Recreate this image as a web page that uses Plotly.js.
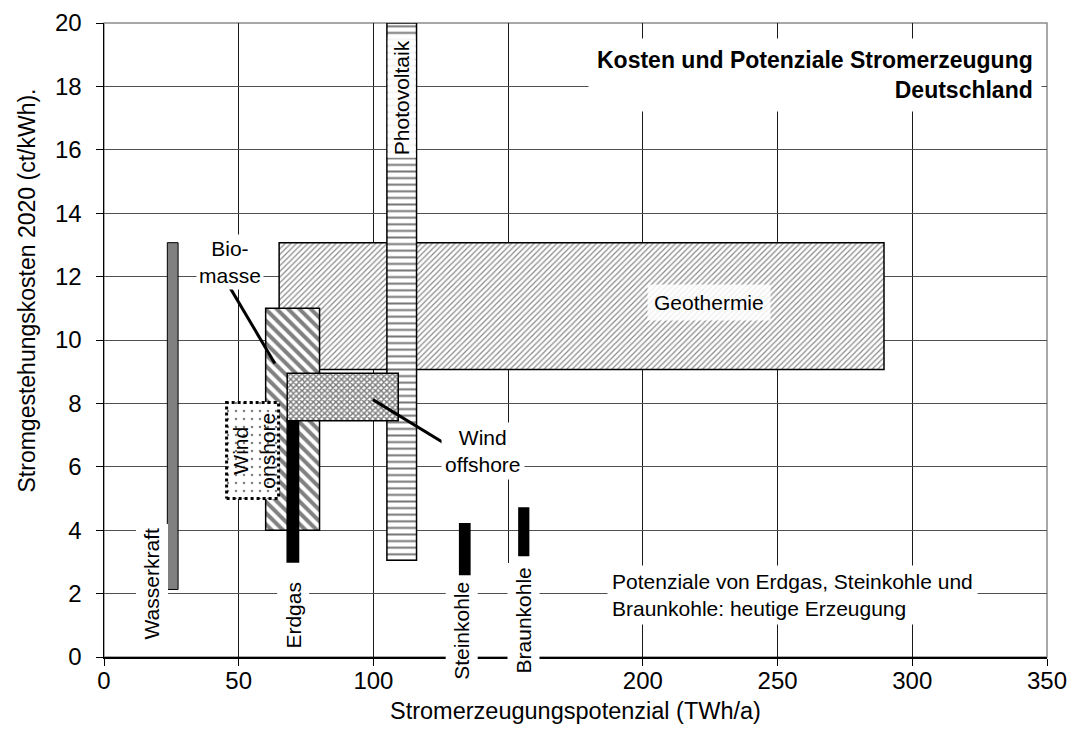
<!DOCTYPE html>
<html><head><meta charset="utf-8">
<script src="https://cdn.plot.ly/plotly-3.0.1.min.js"></script>
<style>html,body{margin:0;padding:0;background:#fff}#chart{width:1078px;height:753px}</style>
</head><body><div id="chart"></div>
<script>
// ---- data ----
const boxNames      = ['Geothermie','Photovoltaik','Biomasse','Erdgas','Wind offshore','Wind onshore','Wasserkraft','Steinkohle','Braunkohle'];
const potentialFrom = [65, 105, 60, 68, 68, 45.5, 23.5, 132, 154];          // TWh/a
const potentialTo   = [289.5, 116, 80, 72.2, 109.2, 64.8, 27.5, 135.8, 157.6]; // TWh/a
const costLow       = [9.07, 3.05, 4.0, 3.0, 7.45, 5.0, 2.13, 2.6, 3.2];      // ct/kWh
const costHigh      = [13.07, 20, 11.0, 7.5, 8.95, 8.03, 13.07, 4.2, 4.7];    // ct/kWh
const xTickVals = [0, 50, 100, 150, 200, 250, 300, 350];
const xTickText = ['0', '50', '100', '', '200', '250', '300', '350']; // 150 is hidden behind the labels in the reference
const yTickVals = [0, 2, 4, 6, 8, 10, 12, 14, 16, 18, 20];
const leaderBiomasseX = [46.7, 63.4];
const leaderBiomasseY = [11.66, 9.26];
const leaderOffshoreX = [99.8, 128.3];
const leaderOffshoreY = [8.12, 6.64];

// ---- styles ----
const FONT = 'Liberation Sans, Arial, sans-serif';
const styles = {
  'Geothermie':   {pattern: {shape: '/',  size: 4,   solidity: 0.3,  fgcolor: '#8a8a8a', bgcolor: '#ffffff'}},
  'Photovoltaik': {pattern: {shape: '-',  size: 6.6, solidity: 0.3,  fgcolor: '#777777', bgcolor: '#ffffff'}},
  'Biomasse':     {pattern: {shape: '\\', size: 8,   solidity: 0.5,  fgcolor: '#808080', bgcolor: '#ffffff'}},
  'Erdgas':       {color: '#000000'},
  'Wind offshore':{pattern: {shape: 'x',  size: 4,   solidity: 0.6,  fgcolor: '#7a7a7a', bgcolor: '#ffffff'}},
  'Wind onshore': {pattern: {shape: '.',  size: 8,   solidity: 0.08, fgcolor: '#808080', bgcolor: '#ffffff'}, noLine: true},
  'Wasserkraft':  {color: '#808080', lineWidth: 1},
  'Steinkohle':   {color: '#000000'},
  'Braunkohle':   {color: '#000000'}
};

const traces = boxNames.map((name, i) => {
  const st = styles[name];
  const marker = {color: st.color || '#ffffff',
                  line: {color: '#000', width: st.noLine ? 0 : (st.lineWidth || 1.5)}};
  if (st.pattern) marker.pattern = Object.assign({fillmode: 'replace'}, st.pattern);
  return {
    type: 'bar', name: name,
    x: [(potentialFrom[i] + potentialTo[i]) / 2],
    width: [potentialTo[i] - potentialFrom[i]],
    base: [costLow[i]],
    y: [costHigh[i] - costLow[i]],
    marker: marker, hoverinfo: 'skip', showlegend: false
  };
});

// dotted outline of the Wind onshore box
const iOn = boxNames.indexOf('Wind onshore');
traces.push({
  type: 'scatter', mode: 'lines', hoverinfo: 'skip', showlegend: false,
  x: [potentialFrom[iOn], potentialTo[iOn], potentialTo[iOn], potentialFrom[iOn], potentialFrom[iOn]],
  y: [costLow[iOn], costLow[iOn], costHigh[iOn], costHigh[iOn], costLow[iOn]],
  line: {color: '#000', width: 3, dash: 'dot'}
});
// leader lines
traces.push({type: 'scatter', mode: 'lines', hoverinfo: 'skip', showlegend: false,
  x: leaderBiomasseX, y: leaderBiomasseY, line: {color: '#000', width: 3}});
traces.push({type: 'scatter', mode: 'lines', hoverinfo: 'skip', showlegend: false,
  x: leaderOffshoreX, y: leaderOffshoreY, line: {color: '#000', width: 3}});

const lblFont = {family: FONT, size: 21, color: '#000'};
function lbl(text, x, y, opts) {
  return Object.assign({text: text, x: x, y: y, xref: 'x', yref: 'y', showarrow: false,
    font: lblFont, bgcolor: '#ffffff', borderpad: 3, xanchor: 'center', yanchor: 'middle'}, opts || {});
}

const annotations = [
  {text: '<b>Kosten und Potenziale Stromerzeugung</b><br><b>Deutschland</b>',
   xref: 'paper', yref: 'paper', x: 0.9947, y: 0.9175, xanchor: 'right', yanchor: 'middle',
   align: 'right', showarrow: false, bgcolor: '#ffffff', borderpad: 8,
   font: {family: FONT, size: 23, color: '#000'}},
  {text: 'Stromgestehungskosten 2020 (ct/kWh).', xref: 'paper', yref: 'paper',
   x: -0.0817, y: 0.578, xanchor: 'center', yanchor: 'middle', textangle: -90, showarrow: false,
   font: {family: FONT, size: 23, color: '#000'}},
  {text: 'Stromerzeugungspotenzial (TWh/a)', xref: 'paper', yref: 'paper',
   x: 0.5, y: -0.0857, xanchor: 'center', yanchor: 'middle', showarrow: false,
   font: {family: FONT, size: 23.5, color: '#000'}},
  lbl('Photovoltaik', 110.5, 17.65, {textangle: -90, bgcolor: 'rgba(255,255,255,0.92)', borderpad: 2}),
  lbl('Geothermie', 224.5, 11.19, {bgcolor: 'rgba(255,255,255,0.85)', borderpad: 6}),
  lbl('Bio-<br>masse', 46.7, 12.45, {borderpad: 2}),
  lbl('Wind<br>offshore', 140.6, 6.49, {borderpad: 3}),
  lbl('Wind<br>onshore', 55.8, 6.52, {textangle: -90, bgcolor: 'rgba(0,0,0,0)', borderpad: 0}),
  lbl('Wasserkraft', 17.8, 2.32, {textangle: -90, borderpad: 4}),
  lbl('Erdgas', 70.2, 1.31, {textangle: -90, borderpad: 4}),
  lbl('Steinkohle', 132.7, 0.81, {textangle: -90, borderpad: 4}),
  lbl('Braunkohle', 155.6, 1.16, {textangle: -90, borderpad: 4}),
  lbl('Potenziale von Erdgas, Steinkohle und<br>Braunkohle: heutige Erzeugung', 186.7, 1.95,
      {xanchor: 'left', align: 'left', borderpad: 4})
];

const layout = {
  width: 1078, height: 753,
  margin: {l: 104, r: 31, t: 23, b: 96, pad: 0},
  paper_bgcolor: '#ffffff', plot_bgcolor: '#ffffff',
  barmode: 'overlay', bargap: 0,
  font: {family: FONT, size: 24, color: '#000'},
  xaxis: {range: [0, 350], tickvals: xTickVals, ticktext: xTickText,
          showgrid: true, gridcolor: '#1a1a1a', gridwidth: 1, zeroline: false,
          showline: true, linecolor: '#000', linewidth: 1.5,
          ticks: 'outside', ticklen: 7, tickcolor: '#000', tickwidth: 1,
          ticklabelstandoff: -5,
          tickfont: {family: FONT, size: 24, color: '#000'}, fixedrange: true},
  yaxis: {range: [0, 20], tickvals: yTickVals, ticktext: yTickVals.map(String),
          showgrid: true, gridcolor: '#505050', gridwidth: 1, zeroline: false,
          showline: true, linecolor: '#000', linewidth: 1.5,
          ticks: 'outside', ticklen: 7, tickcolor: '#000', tickwidth: 1,
          ticklabelstandoff: 9,
          tickfont: {family: FONT, size: 24, color: '#000'}, fixedrange: true},
  shapes: [{type: 'rect', xref: 'paper', yref: 'paper', x0: 0, x1: 1, y0: 0, y1: 1,
            line: {color: '#8c8c8c', width: 1.5}, layer: 'below'}],
  annotations: annotations,
  showlegend: false
};

Plotly.newPlot('chart', traces, layout, {displayModeBar: false, staticPlot: true});
</script>
</body></html>
